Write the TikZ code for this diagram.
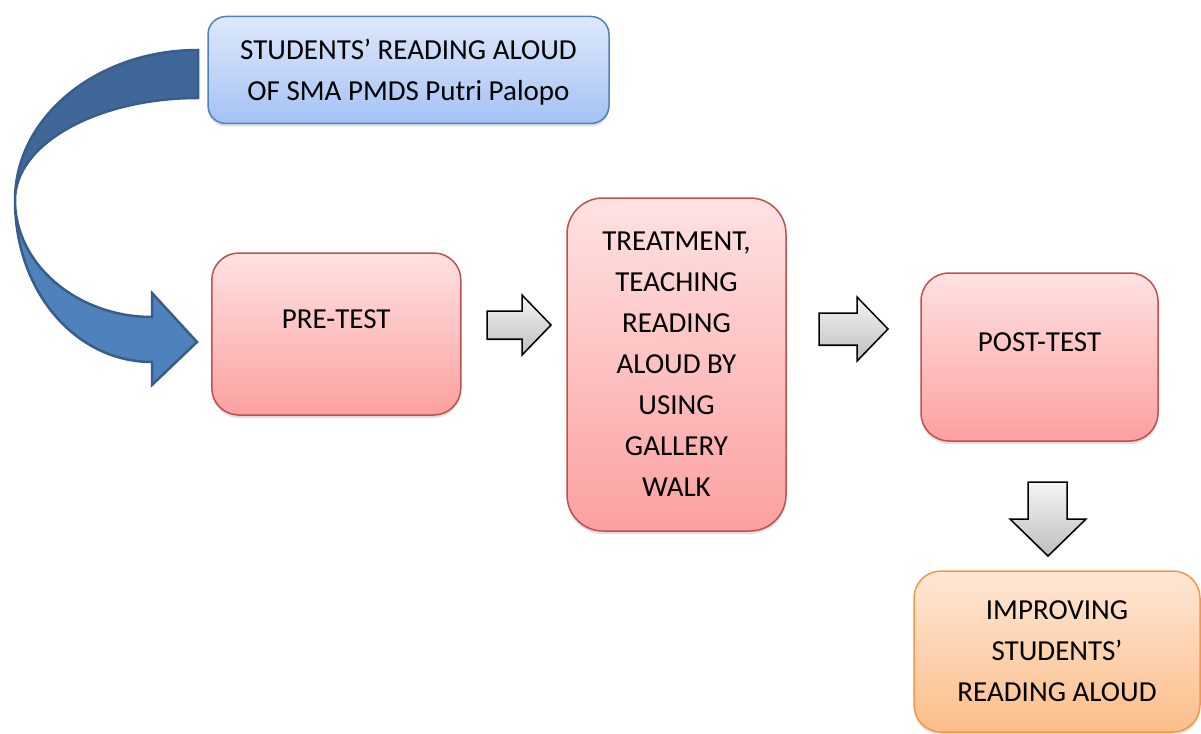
\documentclass[tikz,border=0pt]{standalone}
\usepackage{fontspec}
\setmainfont{Carlito}
\usetikzlibrary{shadows}
\definecolor{bluetop}{RGB}{222,233,251}
\definecolor{bluebot}{RGB}{164,194,244}
\definecolor{blueline}{RGB}{79,129,189}
\definecolor{redtop}{RGB}{255,226,226}
\definecolor{redbot}{RGB}{252,160,160}
\definecolor{redline}{RGB}{192,80,77}
\definecolor{orangetop}{RGB}{255,231,213}
\definecolor{orangebot}{RGB}{252,190,138}
\definecolor{orangeline}{RGB}{247,150,70}
\definecolor{graytop}{RGB}{244,244,244}
\definecolor{graybot}{RGB}{190,190,190}
\definecolor{arrdark}{RGB}{63,103,151}
\definecolor{arrlight}{RGB}{79,129,189}
\definecolor{arrline}{RGB}{56,93,138}
\tikzstyle{flow}=[x=1pt, y=-1pt, font=\fontsize{29}{41}\selectfont]
\tikzstyle{box}=[rectangle, draw, line width=1.5pt, align=center, inner sep=0pt, drop shadow={shadow xshift=0pt, shadow yshift=-3pt, opacity=0.25}]
\tikzstyle{bluebox}=[box, draw=blueline, top color=bluetop, bottom color=bluebot]
\tikzstyle{redbox}=[box, draw=redline, top color=redtop, bottom color=redbot]
\tikzstyle{orangebox}=[box, draw=orangeline, top color=orangetop, bottom color=orangebot]
\tikzstyle{garrow}=[draw=black, line width=1.5pt, top color=graytop, bottom color=graybot, drop shadow={shadow xshift=0pt, shadow yshift=-2pt, opacity=0.2}]
\tikzstyle{band}=[draw=arrline, line width=2.5pt]
\begin{document}
\begin{tikzpicture}[flow]
	\useasboundingbox (0,0) rectangle (1201,733);

	%The boxes
	\node[bluebox, minimum width=401pt, minimum height=107pt, rounded corners=18pt, text depth=0pt] (src) at (408.5,70) {STUDENTS’ READING ALOUD\\OF SMA PMDS Putri Palopo};
	\node[redbox, minimum width=249pt, minimum height=162pt, rounded corners=27pt, text height=18pt, text depth=30pt] (pre) at (336.3,334) {PRE-TEST};
	\node[redbox, minimum width=219pt, minimum height=333pt, rounded corners=36pt] (treat) at (676.5,364.5) {TREATMENT,\\TEACHING\\READING\\ALOUD BY\\USING\\GALLERY\\WALK};
	\node[redbox, minimum width=237pt, minimum height=168pt, rounded corners=28pt, text height=18pt, text depth=30pt] (post) at (1039.5,357) {POST-TEST};
	\node[orangebox, minimum width=286pt, minimum height=161pt, rounded corners=27pt] (impr) at (1057,651.5) {IMPROVING\\STUDENTS’\\READING ALOUD};

	%The curved arrow
	\filldraw[band, fill=arrdark] (198,50) .. controls (97,50) and (15,117) .. (15,200)
		.. controls (15,144) and (97,98) .. (198,98) -- cycle;
	\filldraw[band, fill=arrlight] (15,200) .. controls (15,292) and (76,362) .. (152,362)
		-- (152,385) -- (197,342) -- (152,293) -- (152,317)
		.. controls (78,317) and (15,265) .. (15,200) -- cycle;

	%The block arrows
	\draw[garrow] (487,311) -- (522,311) -- (522,295) -- (551,325) -- (522,355) -- (522,339) -- (487,339) -- cycle;
	\draw[garrow] (819,313) -- (857,313) -- (857,297) -- (888,329) -- (857,361) -- (857,345) -- (819,345) -- cycle;
	\draw[garrow] (1028,482) -- (1067,482) -- (1067,519) -- (1086,519) -- (1048,556) -- (1010,519) -- (1028,519) -- cycle;
\end{tikzpicture}
\end{document}
